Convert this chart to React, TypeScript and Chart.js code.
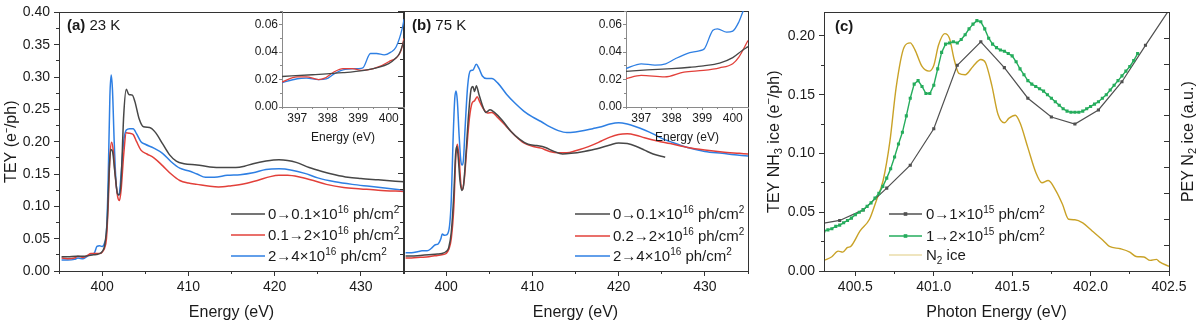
import React, { useEffect, useRef } from 'react';
import { Chart, registerables } from 'chart.js';

Chart.register(...registerables);

const FONT = "'Liberation Sans', Arial, Helvetica, sans-serif";
Chart.defaults.font.family = FONT;
const TEXT = '#1a1a1a';
const AXIS = '#333333';
const C_BLACK = '#474747';
const C_RED = '#e2403a';
const C_BLUE = '#2e7fe3';
const C_GRAY = '#505050';
const C_GREEN = '#25ac5c';
const C_GOLD = '#c9a227';
const C_GOLD_LEG = '#eadcaa';

type Pt = [number, number];

// ---------- tick labels ----------
const mainXTicks = [400, 410, 420, 430];
const mainYTicks = [0, 0.05, 0.1, 0.15, 0.2, 0.25, 0.3, 0.35, 0.4];
const insetXTicks = [397, 398, 399, 400];
const insetYTicks = [0, 0.02, 0.04, 0.06];
const cXTicks = [400.5, 401.0, 401.5, 402.0, 402.5];
const cYTicks = [0, 0.05, 0.1, 0.15, 0.2];
const cRightTicks = [0, 1, 2, 3, 4, 5, 6, 7, 8, 9, 10];

// ---------- panel (a) 23 K ----------
const a23Black: Pt[] = [[395.3,0.022],[396,0.022],[397,0.023],[398,0.023],[399,0.025],[399.5,0.026],[400,0.030],[400.3,0.040],[400.6,0.08],[400.8,0.15],[401.0,0.188],[401.2,0.185],[401.5,0.15],[401.8,0.119],[402.0,0.118],[402.2,0.14],[402.5,0.24],[402.8,0.281],[403.1,0.273],[403.5,0.272],[403.8,0.262],[404.3,0.235],[404.8,0.223],[405.5,0.222],[406.2,0.214],[407,0.197],[407.8,0.18],[408.6,0.170],[409.5,0.166],[411,0.164],[412.5,0.161],[414,0.160],[415.5,0.160],[416.5,0.162],[417.5,0.166],[419,0.170],[420.5,0.172],[421.5,0.171],[422.5,0.168],[424,0.160],[425.5,0.154],[427,0.149],[428.5,0.145],[430,0.143],[432,0.141],[434,0.139],[435,0.138]];
const a23Red: Pt[] = [[395.3,0.020],[396,0.019],[396.8,0.020],[397.2,0.023],[397.8,0.021],[398.3,0.024],[398.7,0.027],[399.2,0.027],[399.7,0.027],[400,0.029],[400.3,0.036],[400.5,0.05],[400.7,0.10],[400.9,0.175],[401.1,0.199],[401.3,0.185],[401.5,0.15],[401.8,0.115],[402.0,0.109],[402.2,0.125],[402.5,0.18],[402.8,0.214],[403.2,0.213],[403.6,0.211],[404,0.200],[404.5,0.187],[405.2,0.181],[406,0.175],[407,0.163],[408,0.150],[409,0.140],[410,0.136],[411,0.134],[412.5,0.131],[413.5,0.130],[415,0.132],[416.5,0.135],[418,0.140],[419.5,0.146],[420.5,0.148],[421.5,0.148],[423,0.145],[424.5,0.140],[426,0.134],[428,0.129],[430,0.127],[432,0.125],[435,0.123]];
const a23Blue: Pt[] = [[395.3,0.017],[396,0.017],[396.8,0.018],[397.2,0.020],[397.8,0.019],[398.3,0.023],[398.7,0.026],[399.1,0.028],[399.4,0.038],[399.7,0.039],[400,0.038],[400.3,0.044],[400.5,0.06],[400.7,0.14],[400.9,0.27],[401.05,0.303],[401.2,0.28],[401.4,0.2],[401.6,0.14],[401.85,0.117],[402.0,0.12],[402.2,0.15],[402.5,0.2],[402.8,0.218],[403.2,0.220],[403.6,0.220],[404,0.212],[404.5,0.200],[405,0.196],[406,0.190],[407,0.182],[408,0.169],[409,0.159],[410,0.155],[411,0.150],[412,0.145],[413,0.145],[414.5,0.148],[416,0.149],[417.5,0.152],[419,0.157],[420.5,0.158],[422,0.156],[423.5,0.151],[425,0.144],[427,0.138],[429,0.134],[431,0.131],[433,0.128],[435,0.125]];

// inset (a)
const a23InBlack: Pt[] = [[396.47,0.0222],[397.5,0.0235],[398.5,0.0250],[399.2,0.0267],[399.6,0.0285],[400.0,0.0316],[400.2,0.035],[400.35,0.039],[400.5,0.0485]];
const a23InRed: Pt[] = [[396.47,0.018],[397.0,0.022],[397.3,0.022],[397.7,0.020],[397.9,0.021],[398.2,0.0255],[398.5,0.028],[398.8,0.028],[399.1,0.0267],[399.5,0.028],[400.0,0.033],[400.4,0.041],[400.5,0.050]];
const a23InBlue: Pt[] = [[396.47,0.0175],[397.0,0.0206],[397.3,0.021],[397.7,0.020],[397.95,0.0205],[398.2,0.024],[398.5,0.027],[399.0,0.028],[399.15,0.0285],[399.4,0.039],[399.6,0.039],[399.85,0.038],[400.07,0.040],[400.24,0.0437],[400.45,0.058],[400.5,0.064]];

// ---------- panel (b) 75 K ----------
const b75Black: Pt[] = [[395.3,0.023],[396,0.023],[397,0.024],[398,0.025],[399,0.026],[399.5,0.027],[400,0.030],[400.3,0.036],[400.6,0.06],[400.9,0.12],[401.1,0.18],[401.25,0.192],[401.4,0.175],[401.6,0.14],[401.8,0.124],[402.0,0.13],[402.3,0.18],[402.6,0.24],[402.9,0.28],[403.1,0.284],[403.3,0.276],[403.5,0.285],[403.8,0.272],[404.2,0.255],[404.6,0.244],[405.1,0.248],[405.6,0.244],[406.5,0.232],[407.5,0.215],[408.5,0.203],[409.5,0.195],[410.5,0.193],[411.5,0.190],[412.5,0.184],[413.5,0.180],[414.5,0.181],[416,0.184],[417.5,0.188],[419,0.194],[420,0.197],[421,0.196],[422,0.192],[423,0.186],[424,0.180],[425.4,0.175]];
const b75Red: Pt[] = [[395.3,0.020],[396,0.020],[397,0.021],[398,0.022],[399,0.024],[399.5,0.025],[400,0.027],[400.3,0.033],[400.6,0.05],[400.9,0.10],[401.1,0.17],[401.3,0.195],[401.5,0.175],[401.7,0.135],[401.9,0.125],[402.1,0.14],[402.4,0.19],[402.7,0.235],[403.0,0.258],[403.3,0.262],[403.6,0.268],[403.9,0.260],[404.3,0.250],[404.8,0.243],[405.3,0.244],[406,0.236],[407,0.222],[408,0.208],[409,0.197],[410,0.192],[411,0.189],[412,0.184],[413,0.182],[414,0.182],[415,0.185],[416,0.189],[417,0.194],[418,0.200],[419,0.206],[420,0.210],[421,0.211],[422,0.209],[423,0.205],[424.5,0.200],[426,0.196],[428,0.190],[430,0.186],[432,0.183],[434,0.181],[435,0.180]];
const b75Blue: Pt[] = [[395.3,0.028],[396,0.028],[396.8,0.030],[397.2,0.031],[397.8,0.031],[398.3,0.035],[398.7,0.040],[399.1,0.042],[399.4,0.050],[399.55,0.057],[399.8,0.055],[400.1,0.056],[400.4,0.07],[400.6,0.11],[400.8,0.2],[401.0,0.265],[401.15,0.277],[401.3,0.262],[401.5,0.21],[401.7,0.17],[401.85,0.163],[402.0,0.17],[402.2,0.22],[402.5,0.285],[402.8,0.308],[403.1,0.309],[403.5,0.318],[403.8,0.312],[404.2,0.300],[404.7,0.296],[405.3,0.296],[406,0.289],[407,0.272],[408,0.258],[409,0.246],[410,0.237],[411,0.230],[412,0.222],[413,0.216],[414,0.213],[415,0.214],[416,0.216],[417,0.219],[418,0.222],[419,0.226],[420,0.228],[421,0.226],[422,0.222],[423,0.217],[424,0.211],[425,0.204],[426,0.199],[428,0.190],[430,0.184],[432,0.181],[434,0.178],[435,0.177]];

// inset (b)
const b75InBlack: Pt[] = [[396.49,0.026],[397.2,0.027],[398.0,0.028],[398.6,0.029],[399.04,0.030],[399.57,0.032],[400.0,0.036],[400.3,0.041],[400.5,0.044]];
const b75InRed: Pt[] = [[396.49,0.0206],[397.0,0.023],[397.77,0.022],[398.4,0.0255],[399.04,0.0267],[399.57,0.0286],[400.0,0.0316],[400.2,0.0364],[400.5,0.0485]];
const b75InBlue: Pt[] = [[396.49,0.028],[397.0,0.0315],[397.45,0.0306],[397.8,0.0315],[398.1,0.035],[398.5,0.039],[398.9,0.041],[399.07,0.0425],[399.35,0.056],[399.5,0.057],[399.8,0.0546],[400.0,0.0553],[400.2,0.062],[400.35,0.0704],[400.45,0.075]];

// ---------- panel (c) ----------
const cDose1: Pt[] = [[400.25,0.0395],[400.4,0.043],[400.55,0.052],[400.7,0.0705],[400.85,0.090],[401.0,0.121],[401.15,0.175],[401.3,0.195],[401.45,0.173],[401.6,0.147],[401.75,0.131],[401.9,0.125],[402.05,0.137],[402.2,0.161],[402.35,0.192],[402.5,0.222]];
const cDose2: Pt[] = [[400.3,0.034],[400.325,0.035],[400.35,0.036],[400.375,0.038],[400.4,0.039],[400.425,0.041],[400.45,0.043],[400.475,0.045],[400.5,0.048],[400.525,0.050],[400.55,0.052],[400.575,0.055],[400.6,0.058],[400.625,0.062],[400.65,0.066],[400.675,0.072],[400.7,0.079],[400.725,0.087],[400.75,0.097],[400.775,0.108],[400.8,0.118],[400.825,0.132],[400.85,0.147],[400.875,0.159],[400.9,0.162],[400.925,0.157],[400.95,0.151],[400.975,0.151],[401.0,0.158],[401.025,0.172],[401.05,0.186],[401.075,0.193],[401.1,0.194],[401.125,0.195],[401.15,0.194],[401.175,0.197],[401.2,0.201],[401.225,0.206],[401.25,0.210],[401.275,0.213],[401.3,0.212],[401.325,0.206],[401.35,0.198],[401.375,0.193],[401.4,0.190],[401.425,0.188],[401.45,0.187],[401.475,0.185],[401.5,0.183],[401.525,0.178],[401.55,0.172],[401.575,0.167],[401.6,0.162],[401.625,0.159],[401.65,0.157],[401.675,0.155],[401.7,0.153],[401.725,0.150],[401.75,0.147],[401.775,0.144],[401.8,0.141],[401.825,0.138],[401.85,0.136],[401.875,0.135],[401.9,0.135],[401.925,0.135],[401.95,0.136],[401.975,0.138],[402.0,0.140],[402.025,0.142],[402.05,0.144],[402.075,0.147],[402.1,0.150],[402.125,0.154],[402.15,0.158],[402.175,0.162],[402.2,0.166],[402.225,0.170],[402.25,0.174],[402.275,0.179],[402.3,0.185]];
const cN2Ice: Pt[] = [[400.3,0.41],[400.35,0.55],[400.39,0.77],[400.42,0.73],[400.45,0.91],[400.47,0.95],[400.53,1.55],[400.59,2.0],[400.634,2.73],[400.677,3.5],[400.72,5.0],[400.76,7.09],[400.81,8.64],[400.85,8.82],[400.88,8.55],[400.925,7.91],[400.97,7.73],[401.0,7.95],[401.03,8.73],[401.07,9.18],[401.1,9.0],[401.13,8.18],[401.16,7.64],[401.2,7.59],[401.25,7.91],[401.3,8.18],[401.33,8.05],[401.37,7.18],[401.41,6.05],[401.45,5.73],[401.48,5.91],[401.52,6.02],[401.55,5.73],[401.6,4.77],[401.65,3.82],[401.69,3.41],[401.73,3.5],[401.78,3.09],[401.82,2.59],[401.86,2.0],[401.9,1.98],[401.95,1.86],[402.01,1.55],[402.08,1.18],[402.12,0.95],[402.19,0.86],[402.25,0.73],[402.29,0.56],[402.34,0.54],[402.38,0.41],[402.42,0.45],[402.44,0.35],[402.5,0.18]];

// ---------- rich text ----------
type Seg = { t: string; sup?: boolean; sub?: boolean; bold?: boolean };
const S = (t: string, o: Partial<Seg> = {}): Seg => ({ t, ...o });

const legA: Seg[][] = [
  [S('0→0.1×10'), S('16', { sup: true }), S(' ph/cm'), S('2', { sup: true })],
  [S('0.1→2×10'), S('16', { sup: true }), S(' ph/cm'), S('2', { sup: true })],
  [S('2→4×10'), S('16', { sup: true }), S(' ph/cm'), S('2', { sup: true })],
];
const legB: Seg[][] = [
  [S('0→0.1×10'), S('16', { sup: true }), S(' ph/cm'), S('2', { sup: true })],
  [S('0.2→2×10'), S('16', { sup: true }), S(' ph/cm'), S('2', { sup: true })],
  [S('2→4×10'), S('16', { sup: true }), S(' ph/cm'), S('2', { sup: true })],
];
const legC: Seg[][] = [
  [S('0→1×10'), S('15', { sup: true }), S(' ph/cm'), S('2', { sup: true })],
  [S('1→2×10'), S('15', { sup: true }), S(' ph/cm'), S('2', { sup: true })],
  [S('N'), S('2', { sub: true }), S(' ice')],
];
const cLeftTitle: Seg[] = [S('TEY NH'), S('3', { sub: true }), S(' ice (e'), S('−', { sup: true }), S('/ph)')];
const cRightTitle: Seg[] = [S('PEY N'), S('2', { sub: true }), S(' ice (a.u.)')];

function segFont(sg: Seg, size: number) {
  const sz = sg.sup || sg.sub ? Math.round(size * 0.68) : size;
  return `${sg.bold ? 'bold ' : ''}${sz}px ${FONT}`;
}
function drawRich(ctx: CanvasRenderingContext2D, segs: Seg[], x: number, yBase: number, size: number, align: 'left' | 'center') {
  ctx.textBaseline = 'alphabetic';
  ctx.textAlign = 'left';
  const widths = segs.map((sg) => { ctx.font = segFont(sg, size); return ctx.measureText(sg.t).width; });
  const total = widths.reduce((p, q) => p + q, 0);
  let cx = align === 'center' ? x - total / 2 : x;
  segs.forEach((sg, i) => {
    ctx.font = segFont(sg, size);
    const dy = sg.sup ? -size * 0.4 : sg.sub ? size * 0.22 : 0;
    ctx.fillText(sg.t, cx, yBase + dy);
    cx += widths[i];
  });
}

// ---------- specs ----------
interface LegendSpec { x0: number; x1: number; tx: number; ys: number[]; size: number; items: { segs: Seg[]; color: string; marker?: boolean }[] }
interface AxisSpec { min: number; max: number; ticks: number[]; dec: number; font: number; tickLen: number; pad: number; labels: boolean; title?: string; titleFont?: number; titlePad?: number; minor: boolean }
interface Spec {
  box: { left: number; top: number; width: number; height: number };
  area: { l: number; r: number; t: number; b: number };
  x: AxisSpec; y: AxisSpec;
  y2?: { min: number; max: number; ticks: number[] };
  axisColor: string;
  frame: boolean;
  datasets: any[];
  legend?: LegendSpec;
  label?: { x: number; y: number; segs: Seg[]; size: number };
  vTitles?: { x: number; segs: Seg[]; size: number; dir: number }[];
}

const toXY = (arr: Pt[]) => arr.map(([x, y]) => ({ x, y }));
const line = (data: Pt[], color: string, extra: any = {}) => ({
  data: toXY(data), borderColor: color, backgroundColor: color, borderWidth: 1.5,
  pointRadius: 0, fill: false, cubicInterpolationMode: 'monotone', ...extra,
});

const mainX = (): AxisSpec => ({ min: 395, max: 435, ticks: mainXTicks, dec: 0, font: 14, tickLen: 5, pad: 3, labels: true, title: 'Energy (eV)', titleFont: 16, titlePad: 3, minor: true });
const mainY = (labels: boolean): AxisSpec => ({ min: 0, max: 0.4, ticks: mainYTicks, dec: 2, font: 14, tickLen: 5, pad: 4, labels, title: labels ? 'TEY (e⁻/ph)' : undefined, titleFont: 16, titlePad: 2, minor: true });
const inX = (): AxisSpec => ({ min: 396.5, max: 400.5, ticks: insetXTicks, dec: 0, font: 12, tickLen: 3, pad: 1, labels: true, title: 'Energy (eV)', titleFont: 12, titlePad: 5, minor: true });
const inY = (): AxisSpec => ({ min: 0, max: 0.07, ticks: insetYTicks, dec: 2, font: 12, tickLen: 3, pad: 1, labels: true, minor: true });

const specs: Spec[] = [
  {
    box: { left: 0, top: 0, width: 410, height: 322 },
    area: { l: 59, r: 404, t: 11, b: 271 },
    x: mainX(), y: mainY(true), axisColor: AXIS, frame: true,
    datasets: [line(a23Black, C_BLACK), line(a23Red, C_RED), line(a23Blue, C_BLUE)],
    legend: { x0: 231, x1: 265, tx: 268, ys: [214, 235, 256], size: 15, items: [
      { segs: legA[0], color: C_BLACK }, { segs: legA[1], color: C_RED }, { segs: legA[2], color: C_BLUE }] },
    label: { x: 67, y: 30, size: 15, segs: [S('(a)', { bold: true }), S(' 23 K')] },
  },
  {
    box: { left: 380, top: 0, width: 400, height: 322 },
    area: { l: 403, r: 748, t: 11, b: 271 },
    x: mainX(), y: mainY(false), axisColor: AXIS, frame: true,
    datasets: [line(b75Black, C_BLACK), line(b75Red, C_RED), line(b75Blue, C_BLUE)],
    legend: { x0: 575, x1: 610, tx: 613, ys: [214, 236, 256], size: 15, items: [
      { segs: legB[0], color: C_BLACK }, { segs: legB[1], color: C_RED }, { segs: legB[2], color: C_BLUE }] },
    label: { x: 412, y: 30, size: 15, segs: [S('(b)', { bold: true }), S(' 75 K')] },
  },
  {
    box: { left: 760, top: 0, width: 440, height: 322 },
    area: { l: 824, r: 1169, t: 10, b: 271 },
    x: { min: 400.3, max: 402.5, ticks: cXTicks, dec: 1, font: 14, tickLen: 5, pad: 3, labels: true, title: 'Photon Energy (eV)', titleFont: 16, titlePad: 3, minor: true },
    y: { min: 0, max: 0.22, ticks: cYTicks, dec: 2, font: 14, tickLen: 5, pad: 4, labels: true, minor: true },
    y2: { min: 0, max: 10, ticks: cRightTicks },
    axisColor: AXIS, frame: true,
    datasets: [
      line(cDose2, C_GREEN, { cubicInterpolationMode: 'default', tension: 0, pointRadius: 2.2, pointStyle: 'rect', pointBorderWidth: 0, borderWidth: 1.4 }),
      line(cDose1, C_GRAY, { cubicInterpolationMode: 'default', tension: 0, pointRadius: 2.2, pointStyle: 'rect', pointBorderWidth: 0, borderWidth: 1.2 }),
      line(cN2Ice, C_GOLD, { yAxisID: 'y2', borderWidth: 1.4 }),
    ],
    legend: { x0: 889, x1: 922, tx: 926, ys: [214, 236, 255], size: 15, items: [
      { segs: legC[0], color: C_GRAY, marker: true }, { segs: legC[1], color: C_GREEN, marker: true }, { segs: legC[2], color: C_GOLD_LEG }] },
    label: { x: 835, y: 31, size: 15, segs: [S('(c)', { bold: true })] },
    vTitles: [
      { x: 773, segs: cLeftTitle, size: 16, dir: -1 },
      { x: 1187, segs: cRightTitle, size: 16, dir: -1 },
    ],
  },
  {
    box: { left: 225, top: 0, width: 185, height: 145 },
    area: { l: 282, r: 404, t: 11, b: 107 },
    x: inX(), y: inY(), axisColor: '#8a8a8a', frame: false,
    datasets: [line(a23InBlack, C_BLACK, { borderWidth: 1.3 }), line(a23InRed, C_RED, { borderWidth: 1.3 }), line(a23InBlue, C_BLUE, { borderWidth: 1.3 })],
  },
  {
    box: { left: 585, top: 0, width: 170, height: 145 },
    area: { l: 626, r: 748, t: 11, b: 107 },
    x: inX(), y: inY(), axisColor: '#8a8a8a', frame: false,
    datasets: [line(b75InBlack, C_BLACK, { borderWidth: 1.3 }), line(b75InRed, C_RED, { borderWidth: 1.3 }), line(b75InBlue, C_BLUE, { borderWidth: 1.3 })],
  },
];

const al = (p: number) => Math.round(p - 0.5) + 0.5;

function minorVals(ticks: number[], min: number, max: number): number[] {
  const step = ticks[1] - ticks[0];
  const out: number[] = [];
  for (let i = -1; i < ticks.length; i++) {
    const m = ticks[0] + (i + 0.5) * step;
    if (m >= min - 1e-9 && m <= max + 1e-9) out.push(m);
  }
  return out;
}

function axisCfg(s: Spec, ax: AxisSpec, horizontal: boolean) {
  return {
    type: 'linear',
    min: ax.min, max: ax.max,
    afterBuildTicks: (sc: any) => { sc.ticks = ax.ticks.map((v) => ({ value: v })); },
    afterFit: (sc: any) => {
      if (horizontal) sc.height = s.box.top + s.box.height - s.area.b;
      else sc.width = s.area.l - s.box.left;
    },
    ticks: {
      display: ax.labels,
      callback: (v: any) => Number(v).toFixed(ax.dec),
      font: { size: ax.font, family: FONT }, color: TEXT,
      padding: ax.pad, maxRotation: 0, minRotation: 0, autoSkip: false,
    },
    grid: { display: true, drawOnChartArea: false, drawTicks: true, tickLength: ax.tickLen, color: s.axisColor, lineWidth: 1 },
    border: { display: true, color: s.axisColor, width: 1 },
    title: ax.title
      ? { display: true, text: ax.title, font: { size: ax.titleFont, family: FONT }, color: TEXT, padding: { top: ax.titlePad, bottom: 0 } }
      : { display: false },
  };
}

function buildConfig(s: Spec): any {
  const ox = s.box.left, oy = s.box.top;
  const scales: any = { x: axisCfg(s, s.x, true), y: axisCfg(s, s.y, false) };
  if (s.y2) scales.y2 = { type: 'linear', display: false, min: s.y2.min, max: s.y2.max };
  const decor = {
    id: 'decor',
    afterDraw(chart: any) {
      const ctx: CanvasRenderingContext2D = chart.ctx;
      const a = chart.chartArea;
      ctx.save();
      ctx.strokeStyle = s.axisColor;
      ctx.lineWidth = 1;
      if (s.frame) {
        const L = al(a.left), R = al(a.right), T = al(a.top), B = al(a.bottom);
        ctx.strokeRect(L, T, R - L, B - T);
      }
      if (s.x.minor) {
        const sc = chart.scales.x;
        ctx.beginPath();
        minorVals(s.x.ticks, s.x.min, s.x.max).forEach((v) => {
          const px = al(sc.getPixelForValue(v));
          ctx.moveTo(px, a.bottom); ctx.lineTo(px, a.bottom + Math.max(2, s.x.tickLen - 2));
        });
        ctx.stroke();
      }
      if (s.y.minor) {
        const sc = chart.scales.y;
        ctx.beginPath();
        minorVals(s.y.ticks, s.y.min, s.y.max).forEach((v) => {
          const py = al(sc.getPixelForValue(v));
          ctx.moveTo(a.left, py); ctx.lineTo(a.left - Math.max(2, s.y.tickLen - 2), py);
        });
        ctx.stroke();
      }
      if (s.y2) {
        const sc = chart.scales.y2;
        ctx.beginPath();
        s.y2.ticks.forEach((v) => {
          const py = al(sc.getPixelForValue(v));
          ctx.moveTo(a.right, py); ctx.lineTo(a.right - 5, py);
        });
        ctx.stroke();
      }
      ctx.fillStyle = TEXT;
      if (s.vTitles) {
        s.vTitles.forEach((vt) => {
          ctx.save();
          ctx.translate(vt.x - ox, (a.top + a.bottom) / 2);
          ctx.rotate(vt.dir * Math.PI / 2);
          drawRich(ctx, vt.segs, 0, vt.size * 0.36, vt.size, 'center');
          ctx.restore();
        });
      }
      if (s.label) {
        drawRich(ctx, s.label.segs, s.label.x - ox, s.label.y - oy, s.label.size, 'left');
      }
      if (s.legend) {
        const L = s.legend;
        L.items.forEach((it, i) => {
          const y = L.ys[i] - oy;
          ctx.strokeStyle = it.color;
          ctx.lineWidth = 1.6;
          ctx.beginPath(); ctx.moveTo(L.x0 - ox, y); ctx.lineTo(L.x1 - ox, y); ctx.stroke();
          if (it.marker) {
            ctx.fillStyle = it.color;
            ctx.fillRect((L.x0 + L.x1) / 2 - ox - 1.8, y - 1.8, 3.6, 3.6);
          }
          ctx.fillStyle = TEXT;
          drawRich(ctx, it.segs, L.tx - ox, y + L.size * 0.36, L.size, 'left');
        });
      }
      ctx.restore();
    },
  };
  return {
    type: 'line',
    data: { datasets: s.datasets },
    options: {
      responsive: false,
      maintainAspectRatio: false,
      animation: false,
      events: [],
      devicePixelRatio: 1,
      layout: { padding: { left: 0, top: s.area.t - oy, right: ox + s.box.width - s.area.r, bottom: 0 } },
      plugins: { legend: { display: false }, tooltip: { enabled: false }, title: { display: false } },
      scales,
    },
    plugins: [decor],
  };
}

function Panel({ spec }: { spec: Spec }) {
  const ref = useRef<HTMLCanvasElement>(null);
  useEffect(() => {
    const chart = new Chart(ref.current as HTMLCanvasElement, buildConfig(spec));
    return () => chart.destroy();
  }, [spec]);
  return (
    <canvas
      ref={ref}
      width={spec.box.width}
      height={spec.box.height}
      style={{ position: 'absolute', left: spec.box.left, top: spec.box.top, width: spec.box.width, height: spec.box.height }}
    />
  );
}

export default function App() {
  return (
    <div style={{ position: 'fixed', left: 0, top: 0, width: 1200, height: 322, background: '#ffffff', overflow: 'hidden' }}>
      {specs.map((s, i) => <Panel key={i} spec={s} />)}
    </div>
  );
}
